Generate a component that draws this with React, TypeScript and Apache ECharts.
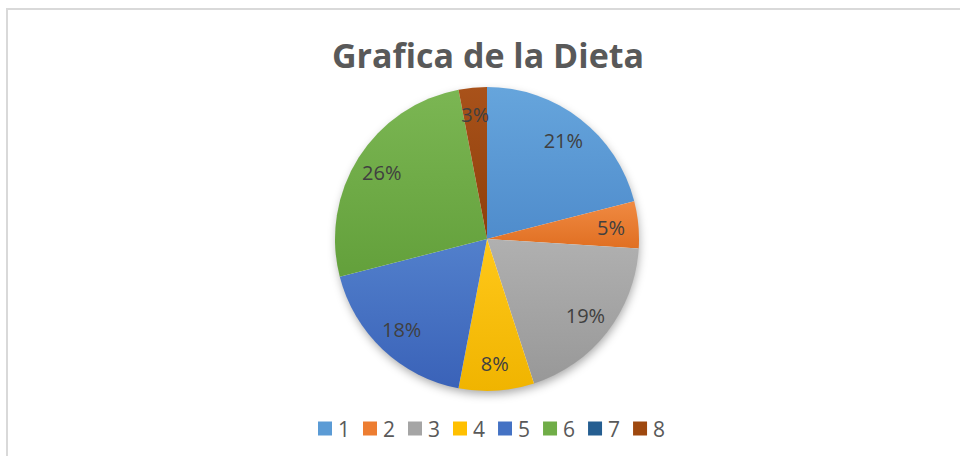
import React, { useEffect, useRef } from "react";
import * as echarts from "echarts";

const categories = ["1", "2", "3", "4", "5", "6", "7", "8"];
const values = [21, 5, 19, 8, 18, 26, 0, 3];
const colorsTop = ["#66a5dc", "#f08a42", "#b0b0b0", "#ffc81a", "#5280cc", "#7bb653", "#2d6aa0", "#a9521a"];
const colorsBottom = ["#4f8ccc", "#e06f22", "#989898", "#f0b400", "#3a62b8", "#63a03b", "#1f5282", "#8e3f0b"];
const legendColors = ["#5B9BD5", "#ED7D31", "#A5A5A5", "#FFC000", "#4472C4", "#70AD47", "#255E91", "#9E480E"];
const titleText = "Grafica de la Dieta";

export default function App() {
  const ref = useRef<HTMLDivElement>(null);
  useEffect(() => {
    if (!ref.current) return;
    const chart = echarts.init(ref.current, undefined, { renderer: "svg" });
    const cx = 487;
    const cy = 239;
    const R = 152;
    const mainData = categories.map((c, i) => ({
      name: c,
      value: values[i],
      itemStyle: {
        color: new echarts.graphic.LinearGradient(0, 0, 0, 1, [
          { offset: 0, color: colorsTop[i] },
          { offset: 1, color: colorsBottom[i] },
        ]),
      },
    }));
    const labelData = categories.map((c, i) => ({ name: c, value: values[i] }));
    chart.setOption({
      animation: false,
      backgroundColor: "#ffffff",
      title: {
        text: titleText,
        left: cx - 4,
        textAlign: "center",
        top: 33,
        textStyle: {
          fontFamily: "Open Sans",
          fontWeight: "bold",
          fontSize: 34,
          color: "#595959",
        },
      },
      legend: {
        data: categories.map((c, i) => ({ name: c, itemStyle: { color: legendColors[i] } })),
        top: 413,
        left: 313,
        itemWidth: 14,
        itemHeight: 14,
        itemGap: 13,
        icon: "rect",
        selectedMode: false,
        textStyle: { fontFamily: "Open Sans", fontSize: 21, color: "#595959", padding: [0, 0, 0, 1] },
      },
      graphic: [
        {
          type: "rect",
          z: -10,
          shape: { x: 7, y: 9, width: 1000, height: 500 },
          style: { fill: "none", stroke: "#d9d9d9", lineWidth: 2 },
        },
        {
          type: "circle",
          z: -5,
          shape: { cx, cy, r: R - 1 },
          style: {
            fill: "#ffffff",
            shadowBlur: 10,
            shadowOffsetY: 4,
            shadowOffsetX: 1,
            shadowColor: "rgba(0,0,0,0.35)",
          },
        },
      ],
      series: [
        {
          type: "pie",
          center: [cx, cy],
          radius: [0, R],
          startAngle: 90,
          clockwise: true,
          silent: true,
          label: { show: false },
          labelLine: { show: false },
          itemStyle: { borderWidth: 0 },
          data: mainData,
        },
        {
          type: "pie",
          center: [cx, cy],
          radius: [R * 0.6, R],
          startAngle: 90,
          clockwise: true,
          silent: true,
          legendHoverLink: false,
          avoidLabelOverlap: false,
          itemStyle: { color: "rgba(0,0,0,0)", borderWidth: 0 },
          labelLine: { show: false },
          label: {
            show: true,
            position: "inside",
            fontFamily: "Open Sans",
            fontSize: 20,
            color: "#404040",
            padding: [4, 0, 0, 0],
            formatter: (p: any) => (p.value > 0 ? p.value + "%" : ""),
          },
          data: labelData,
        },
      ],
    });
    return () => chart.dispose();
  }, []);
  return (
    <div
      ref={ref}
      style={{ position: "fixed", left: 0, top: 0, width: 960, height: 456 }}
    />
  );
}
